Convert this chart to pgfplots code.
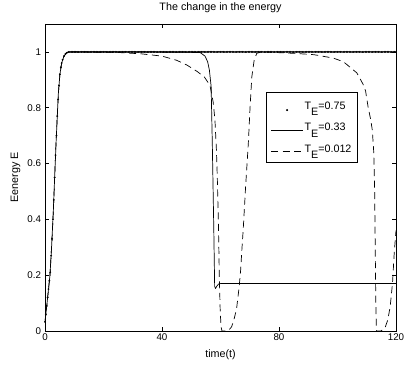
\documentclass[border=0pt]{standalone}
\usepackage{fontspec}
\setmainfont{Liberation Sans}
\usepackage{pgfplots}
\pgfplotsset{compat=1.18}
\pgfplotsset{
  lineleg/.style={legend image code/.code={\draw[##1] (0bp,-2.5bp) -- (31.6bp,-2.5bp);}},
  dotleg/.style={legend image code/.code={\draw[##1] plot coordinates {(16bp,-4bp)};}},
}
\newcommand{\TE}[1]{T\raisebox{-6.5bp}{E}=#1}
\begin{document}
\begin{tikzpicture}
\begin{axis}[
  at={(0,0)}, anchor=south west,
  scale only axis, width=351bp, height=307bp,
  xmin=0, xmax=120, ymin=0, ymax=1.1,
  xtick={0,40,80,120}, ytick={0,0.2,0.4,0.6,0.8,1},
  tick align=inside, tick pos=both, major tick length=4bp,
  axis line style={line width=0.7bp},
  every tick/.style={black, line width=0.6bp},
  /pgf/number format/assume math mode=true,
  tick label style={font=\fontsize{9.8}{11}\selectfont},
  xticklabel style={anchor=base, yshift=-9.7bp},
  yticklabel style={anchor=east, xshift=-0.5bp},
  title={The change in the energy},
  title style={font=\fontsize{10.8}{12}\selectfont, at={(axis description cs:0.5,1.026)}, anchor=base},
  xlabel={time(t)},
  xlabel style={font=\fontsize{10.8}{12}\selectfont, at={(axis description cs:0.5,-0.087)}, anchor=base},
  ylabel={Eenergy E},
  ylabel style={font=\fontsize{10.8}{12}\selectfont, at={(axis description cs:-0.0769,0.5)}, anchor=base, rotate=0},
  legend style={at={(0.8897,0.7775)}, anchor=north east, draw=black, line width=0.6bp,
    font=\fontsize{10.8}{12}\selectfont, row sep=8.5bp, inner xsep=4bp, inner ysep=7bp,
    nodes={inner xsep=1.5bp, inner ysep=2bp}},
  legend cell align=left,
]
% T_E = 0.75 (dots)
\addplot[only marks, mark=*, mark size=0.7bp, black, dotleg]
coordinates {
(0,0.033)(0.3,0.06)(0.6,0.09)(0.9,0.12)(1.2,0.15)(1.5,0.18)(1.8,0.21)(2.1,0.27)
(2.4,0.33)(2.7,0.40)(3.0,0.47)(3.3,0.55)(3.6,0.63)(3.9,0.70)(4.2,0.77)(4.5,0.83)
(4.8,0.88)(5.1,0.92)(5.4,0.945)(5.7,0.96)(6.0,0.972)(6.5,0.985)(7.0,0.993)(7.5,0.997)(8,1)
(8.5,1)(9,1)(9.5,1)(10,1)(10.5,1)(11,1)(11.5,1)(12,1)(12.5,1)(13,1)(13.5,1)(14,1)
(14.5,1)(15,1)(15.5,1)(16,1)(16.5,1)(17,1)(17.5,1)(18,1)(18.5,1)(19,1)(19.5,1)(20,1)
(20.5,1)(21,1)(21.5,1)(22,1)(22.5,1)(23,1)(23.5,1)(24,1)(24.5,1)(25,1)(25.5,1)(26,1)
(26.5,1)(27,1)(27.5,1)(28,1)(28.5,1)(29,1)(29.5,1)(30,1)(30.5,1)(31,1)(31.5,1)(32,1)
(32.5,1)(33,1)(33.5,1)(34,1)(34.5,1)(35,1)(35.5,1)(36,1)(36.5,1)(37,1)(37.5,1)(38,1)
(38.5,1)(39,1)(39.5,1)(40,1)(40.5,1)(41,1)(41.5,1)(42,1)(42.5,1)(43,1)(43.5,1)(44,1)
(44.5,1)(45,1)(45.5,1)(46,1)(46.5,1)(47,1)(47.5,1)(48,1)(48.5,1)(49,1)(49.5,1)(50,1)
(50.5,1)(51,1)(51.5,1)(52,1)(52.5,1)(53,1)(53.5,1)(54,1)(54.5,1)(55,1)(55.5,1)(56,1)
(56.5,1)(57,1)(57.5,1)(58,1)(58.5,1)(59,1)(59.5,1)(60,1)(60.5,1)(61,1)(61.5,1)(62,1)
(62.5,1)(63,1)(63.5,1)(64,1)(64.5,1)(65,1)(65.5,1)(66,1)(66.5,1)(67,1)(67.5,1)(68,1)
(68.5,1)(69,1)(69.5,1)(70,1)(70.5,1)(71,1)(71.5,1)(72,1)(72.5,1)(73,1)(73.5,1)(74,1)
(74.5,1)(75,1)(75.5,1)(76,1)(76.5,1)(77,1)(77.5,1)(78,1)(78.5,1)(79,1)(79.5,1)(80,1)
(80.5,1)(81,1)(81.5,1)(82,1)(82.5,1)(83,1)(83.5,1)(84,1)(84.5,1)(85,1)(85.5,1)(86,1)
(86.5,1)(87,1)(87.5,1)(88,1)(88.5,1)(89,1)(89.5,1)(90,1)(90.5,1)(91,1)(91.5,1)(92,1)
(92.5,1)(93,1)(93.5,1)(94,1)(94.5,1)(95,1)(95.5,1)(96,1)(96.5,1)(97,1)(97.5,1)(98,1)
(98.5,1)(99,1)(99.5,1)(100,1)(100.5,1)(101,1)(101.5,1)(102,1)(102.5,1)(103,1)(103.5,1)(104,1)
(104.5,1)(105,1)(105.5,1)(106,1)(106.5,1)(107,1)(107.5,1)(108,1)(108.5,1)(109,1)(109.5,1)(110,1)
(110.5,1)(111,1)(111.5,1)(112,1)(112.5,1)(113,1)(113.5,1)(114,1)(114.5,1)(115,1)(115.5,1)(116,1)
(116.5,1)(117,1)(117.5,1)(118,1)(118.5,1)(119,1)(119.5,1)(120,1)
};
\addlegendentry{\TE{0.75}}
% T_E = 0.33 (solid)
\addplot[black, line width=0.7bp, line join=round, lineleg]
coordinates {
(0,0.033)(0.5,0.08)(1,0.13)(1.7,0.2)(2.3,0.31)(2.85,0.43)(3.3,0.55)(3.76,0.67)
(4.2,0.77)(4.56,0.85)(5.1,0.92)(5.7,0.96)(6.5,0.985)(7.4,0.997)(8.5,1)
(30,1)(53,0.998)(54.7,0.985)(55.6,0.965)(56.2,0.935)(56.8,0.876)(57.2,0.67)
(57.7,0.37)(58.0,0.16)(58.3,0.152)(58.7,0.16)(59.3,0.168)(60,0.17)(120,0.17)
};
\addlegendentry{\TE{0.33}}
% T_E = 0.012 (dashed)
\addplot[black, line width=0.7bp, dash pattern=on 7bp off 4.5bp, lineleg]
coordinates {
(0,0.033)(0.5,0.08)(1,0.13)(1.7,0.2)(2.3,0.31)(2.85,0.43)(3.3,0.55)(3.76,0.67)
(4.2,0.77)(4.56,0.85)(5.1,0.92)(5.7,0.96)(6.5,0.985)(7.4,0.997)(8.5,1)
(25,0.998)(33,0.993)(40,0.985)(45,0.97)(48.5,0.953)(52,0.93)(54.5,0.91)
(56.4,0.88)(57.5,0.82)(58.1,0.756)(58.6,0.65)(58.9,0.553)(59.3,0.38)(59.6,0.195)
(59.9,0.07)(60.2,0.015)(60.5,0)(62,0)(63,0.005)(63.8,0.015)(64.7,0.045)(65.5,0.08)
(66.4,0.16)(66.9,0.22)(67.3,0.29)(67.8,0.37)(68.6,0.52)(69.5,0.67)(70.1,0.8)
(70.7,0.91)(71.5,0.97)(72.4,0.995)(74,1)(85,0.995)(92,0.99)(98.5,0.978)
(102,0.965)(104.3,0.945)(106.6,0.925)(108.7,0.885)(109.6,0.86)(110.5,0.80)
(111.3,0.76)(111.9,0.72)(112.4,0.64)(112.7,0.5)(112.9,0.3)(113.1,0.1)(113.3,0)(114.8,0)
(116.2,0.01)(117.2,0.04)(118,0.087)(118.8,0.17)(119.4,0.28)(120,0.36)
};
\addlegendentry{\TE{0.012}}
\end{axis}
\pgfresetboundingbox
\useasboundingbox (-45bp,-34bp) rectangle (360bp,331bp);
\end{tikzpicture}
\end{document}
